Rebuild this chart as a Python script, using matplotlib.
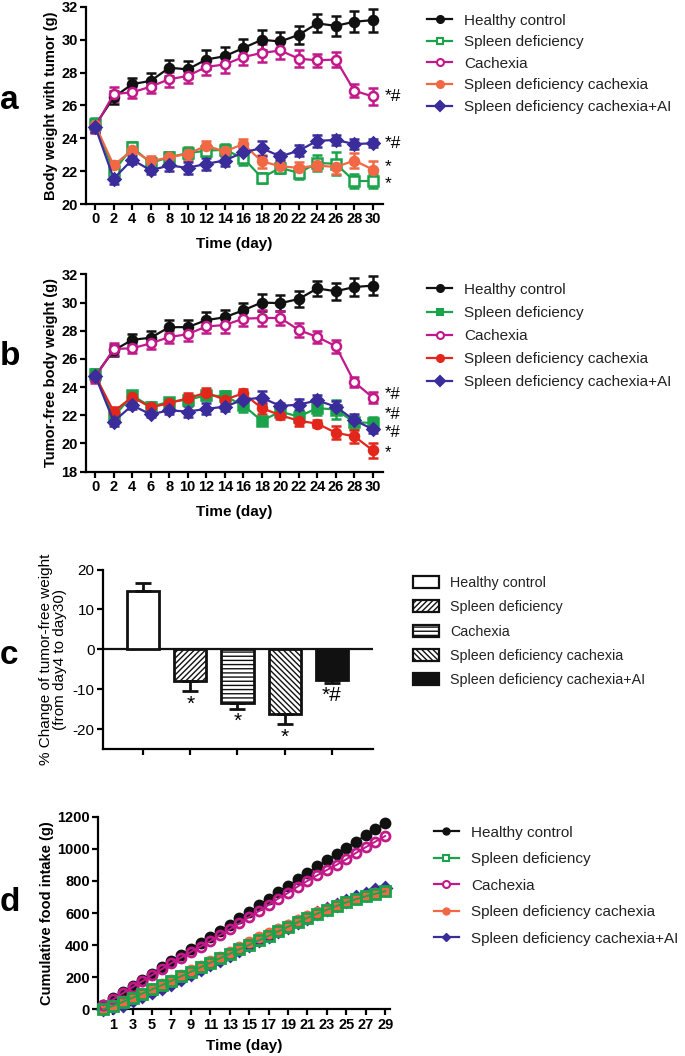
import matplotlib.pyplot as plt
from matplotlib.patches import Patch
from matplotlib.lines import Line2D

plt.rcParams['font.family'] = ['Liberation Sans', 'DejaVu Sans']
plt.rcParams['hatch.linewidth'] = 1.0
plt.rcParams['axes.unicode_minus'] = False

groups = ["Healthy control", "Spleen deficiency", "Cachexia",
          "Spleen deficiency cachexia", "Spleen deficiency cachexia+AI"]

# panel a/b: days 0..30 every 2 days
days_ab = list(range(0, 31, 2))

a_healthy = [24.8, 26.5, 27.3, 27.5, 28.3, 28.2, 28.8, 29.0, 29.5, 30.0, 29.9, 30.3, 31.0, 30.85, 31.1, 31.2]
a_spleen = [24.9, 22.0, 23.45, 22.5, 22.85, 23.1, 23.25, 23.3, 22.8, 21.6, 22.2, 21.9, 22.5, 22.45, 21.4, 21.4]
a_cachexia = [24.7, 26.7, 26.8, 27.15, 27.6, 27.8, 28.35, 28.5, 28.95, 29.2, 29.35, 28.85, 28.75, 28.8, 26.9, 26.55]
a_sdc = [24.8, 22.35, 23.3, 22.6, 22.85, 23.05, 23.55, 23.2, 23.65, 22.6, 22.3, 22.2, 22.35, 22.25, 22.65, 22.1]
a_sdcai = [24.7, 21.55, 22.7, 22.05, 22.35, 22.2, 22.45, 22.65, 23.15, 23.4, 22.9, 23.25, 23.85, 23.9, 23.65, 23.7]

a_healthy_err = [0.4, 0.4, 0.4, 0.45, 0.5, 0.5, 0.55, 0.55, 0.55, 0.6, 0.55, 0.55, 0.55, 0.6, 0.65, 0.7]
a_spleen_err = [0.35, 0.3, 0.3, 0.3, 0.3, 0.35, 0.35, 0.35, 0.45, 0.3, 0.3, 0.4, 0.5, 0.7, 0.45, 0.45]
a_cachexia_err = [0.4, 0.45, 0.35, 0.4, 0.45, 0.45, 0.5, 0.55, 0.5, 0.55, 0.5, 0.5, 0.4, 0.45, 0.4, 0.5]
a_sdc_err = [0.3, 0.3, 0.25, 0.3, 0.3, 0.35, 0.3, 0.3, 0.3, 0.4, 0.35, 0.35, 0.3, 0.45, 0.45, 0.55]
a_sdcai_err = [0.3, 0.35, 0.25, 0.2, 0.35, 0.35, 0.35, 0.35, 0.35, 0.45, 0.2, 0.35, 0.35, 0.3, 0.3, 0.25]

b_healthy = [24.8, 26.6, 27.35, 27.5, 28.25, 28.25, 28.75, 28.95, 29.45, 30.0, 29.95, 30.25, 31.0, 30.8, 31.1, 31.2]
b_spleen = [24.9, 21.9, 23.4, 22.6, 22.95, 23.1, 23.4, 23.35, 22.7, 21.6, 22.25, 21.9, 22.5, 22.4, 21.5, 21.45]
b_cachexia = [24.7, 26.7, 26.75, 27.1, 27.55, 27.75, 28.3, 28.4, 28.85, 28.9, 28.9, 28.05, 27.55, 26.9, 24.35, 23.25]
b_sdc = [24.8, 22.25, 23.3, 22.55, 22.85, 23.2, 23.6, 23.1, 23.55, 22.5, 22.0, 21.6, 21.4, 20.75, 20.5, 19.5]
b_sdcai = [24.8, 21.55, 22.7, 22.05, 22.35, 22.25, 22.45, 22.6, 23.1, 23.25, 22.65, 22.75, 23.05, 22.6, 21.65, 21.0]

b_healthy_err = [0.4, 0.4, 0.4, 0.45, 0.5, 0.5, 0.55, 0.55, 0.55, 0.6, 0.55, 0.55, 0.55, 0.6, 0.65, 0.7]
b_spleen_err = [0.35, 0.3, 0.3, 0.3, 0.3, 0.35, 0.35, 0.35, 0.45, 0.3, 0.3, 0.4, 0.5, 0.7, 0.45, 0.45]
b_cachexia_err = [0.4, 0.45, 0.35, 0.4, 0.45, 0.45, 0.5, 0.55, 0.5, 0.55, 0.5, 0.5, 0.4, 0.45, 0.35, 0.4]
b_sdc_err = [0.3, 0.3, 0.25, 0.3, 0.3, 0.35, 0.3, 0.3, 0.3, 0.4, 0.3, 0.4, 0.25, 0.45, 0.45, 0.55]
b_sdcai_err = [0.3, 0.35, 0.25, 0.2, 0.3, 0.4, 0.4, 0.3, 0.35, 0.45, 0.2, 0.4, 0.4, 0.4, 0.4, 0.25]

# significance marks at day 30 (label, y position)
a_marks = [("*#", 26.55), ("*#", 23.7), ("*", 22.3), ("*", 21.25)]
b_marks = [("*#", 23.5), ("*#", 22.05), ("*#", 20.75), ("*", 19.35)]

# panel c: % change of tumor-free weight
c_values = [14.5, -8.0, -13.5, -16.3, -7.8]
c_err = [2.0, 2.5, 1.5, 2.5, 0.6]
c_marks = ["", "*", "*", "*", "*#"]

# panel d: cumulative food intake, days 0..29
days_d = list(range(0, 30))
d_healthy = [30, 68, 105, 145, 183, 222, 262, 300, 338, 378, 412, 450, 488, 527, 566,
             606, 648, 690, 730, 770, 810, 850, 890, 930, 968, 1008, 1045, 1085, 1122, 1160]
d_spleen = [0, 22, 46, 72, 98, 124, 150, 178, 206, 234, 262, 290, 318, 346, 374,
            402, 430, 458, 486, 514, 542, 570, 596, 620, 644, 666, 686, 704, 720, 736]
d_cachexia = [25, 62, 100, 138, 175, 213, 250, 288, 322, 358, 390, 425, 462, 498, 535,
              575, 612, 650, 690, 725, 765, 800, 835, 868, 900, 935, 975, 1010, 1045, 1080]
d_sdc = [5, 25, 50, 76, 102, 128, 155, 183, 212, 242, 270, 298, 327, 356, 386,
         418, 448, 476, 502, 528, 556, 580, 604, 626, 648, 668, 688, 706, 722, 740]
d_sdcai = [0, 12, 30, 55, 80, 105, 130, 158, 188, 220, 250, 280, 310, 340, 372,
           402, 430, 458, 486, 514, 542, 570, 598, 624, 650, 674, 698, 720, 742, 758]

black = "#111111"
green = "#1aa34a"
magenta = "#c2188a"
orange = "#f26844"
red = "#e3261b"
blue = "#3a2c9a"

fig = plt.figure(figsize=(6.85, 10.56), dpi=100)


def style_axes(ax, bold=True, size=10.5):
    for s in ["top", "right"]:
        ax.spines[s].set_visible(False)
    for s in ["left", "bottom"]:
        ax.spines[s].set_linewidth(1.6)
    ax.tick_params(width=1.6, length=4, labelsize=size, pad=2)
    if bold:
        for lab in ax.get_xticklabels() + ax.get_yticklabels():
            lab.set_fontweight("bold")


def line_panel(ax, series, ylabel):
    for y, err, col, mk, mfc in series:
        ax.errorbar(days_ab, y, yerr=err, color=col, marker=mk, markersize=6.5,
                    mfc=mfc, mec=col, mew=1.8, lw=1.6, elinewidth=1.8,
                    capsize=3.5, capthick=1.8, clip_on=False, zorder=3)
    ax.set_xlim(-1, 31.1)
    ax.set_xticks(days_ab)
    ax.set_ylabel(ylabel, fontsize=10.5, fontweight="bold", labelpad=2)
    ax.set_xlabel("Time (day)", fontsize=11, fontweight="bold", labelpad=8)
    style_axes(ax)


def line_legend(y0, handles, spacing=0.5):
    fig.legend(handles, groups, loc="upper left", bbox_to_anchor=(0.615, y0),
               frameon=False, fontsize=11, handlelength=1.6, handletextpad=0.8,
               labelspacing=spacing, borderaxespad=0, labelcolor="#222222")


# ---- panel a
ax_a = fig.add_axes([0.1255, 0.8068, 0.4336, 0.1866])
series_a = [
    (a_healthy, a_healthy_err, black, "o", black),
    (a_spleen, a_spleen_err, green, "s", "white"),
    (a_cachexia, a_cachexia_err, magenta, "o", "white"),
    (a_sdc, a_sdc_err, orange, "o", orange),
    (a_sdcai, a_sdcai_err, blue, "D", blue),
]
line_panel(ax_a, series_a, "Body weight with tumor (g)")
ax_a.set_ylim(20, 32)
ax_a.set_yticks(range(20, 33, 2))
style_axes(ax_a)
for txt, y in a_marks:
    ax_a.text(31.3, y, txt, fontsize=12.5, va="center", ha="left")
line_legend(0.993, [Line2D([], [], color=c, marker=m, mfc=f, mec=c, mew=1.5, markersize=5, lw=1.6)
                    for _, _, c, m, f in series_a])

# ---- panel b
ax_b = fig.add_axes([0.1255, 0.5535, 0.4336, 0.1867])
series_b = [
    (b_healthy, b_healthy_err, black, "o", black),
    (b_spleen, b_spleen_err, green, "s", green),
    (b_cachexia, b_cachexia_err, magenta, "o", "white"),
    (b_sdc, b_sdc_err, red, "o", red),
    (b_sdcai, b_sdcai_err, blue, "D", blue),
]
line_panel(ax_b, series_b, "Tumor-free body weight (g)")
ax_b.set_ylim(18, 32)
ax_b.set_yticks(range(18, 33, 2))
style_axes(ax_b)
for txt, y in b_marks:
    ax_b.text(31.3, y, txt, fontsize=12, va="center", ha="left")
line_legend(0.738, [Line2D([], [], color=c, marker=m, mfc=f, mec=c, mew=1.5, markersize=5, lw=1.6)
                    for _, _, c, m, f in series_b], spacing=0.6)

# ---- panel c
ax_c = fig.add_axes([0.1504, 0.2907, 0.394, 0.170])
faces = ["white", "white", "white", "white", black]
hatches = ["", "//////", "----", "\\\\\\\\\\\\", ""]
xs = list(range(len(c_values)))
for i, (v, e) in enumerate(zip(c_values, c_err)):
    ax_c.bar(i, v, width=0.68, color=faces[i], edgecolor=black, hatch=hatches[i],
             linewidth=2, zorder=2)
    ax_c.errorbar(i, v, yerr=[[e if v < 0 else 0], [e if v > 0 else 0]], color=black,
                  elinewidth=2, capsize=6, capthick=2, zorder=3)
    if c_marks[i]:
        ax_c.text(i, v - e - 0.8, c_marks[i], fontsize=15, ha="center", va="top")
ax_c.axhline(0, color=black, lw=1.6, zorder=1)
ax_c.set_xlim(-0.85, 4.87)
ax_c.set_ylim(-25, 20)
ax_c.set_xticks(xs)
ax_c.set_xticklabels([])
ax_c.set_yticks([-20, -10, 0, 10, 20])
ax_c.set_ylabel("% Change of tumor-free weight\n(from day4 to day30)", fontsize=11, labelpad=4,
                linespacing=1.0)
style_axes(ax_c, bold=False, size=11)
handles_c = [Patch(facecolor=faces[i], edgecolor=black, hatch=hatches[i], linewidth=1.6)
             for i in range(5)]
fig.legend(handles_c, groups, loc="upper left", bbox_to_anchor=(0.595, 0.46),
           frameon=False, fontsize=10.3, handlelength=1.8, handleheight=0.9,
           handletextpad=0.8, labelspacing=0.72, borderaxespad=0, labelcolor="#222222")

# ---- panel d
ax_d = fig.add_axes([0.1431, 0.0442, 0.4263, 0.1824])
series_d = [
    (d_healthy, black, "o", black),
    (d_sdcai, blue, "D", blue),
    (d_sdc, orange, "o", orange),
    (d_cachexia, magenta, "o", "none"),
    (d_spleen, green, "s", "none"),
]
for y, col, mk, mfc in series_d:
    ax_d.plot(days_d, y, color=col, marker=mk, markersize=6.5, mfc=mfc, mec=col,
              mew=2, lw=1.4, clip_on=False, zorder=3)
ax_d.set_xlim(-0.55, 29.5)
ax_d.set_ylim(0, 1200)
ax_d.set_xticks(range(1, 30, 2))
ax_d.set_yticks(range(0, 1201, 200))
ax_d.set_ylabel("Cumulative food intake (g)", fontsize=10.5, fontweight="bold", labelpad=2)
ax_d.set_xlabel("Time (day)", fontsize=11, fontweight="bold", labelpad=5)
style_axes(ax_d)
d_handles = [
    Line2D([], [], color=black, marker="o", mfc=black, mec=black, markersize=5, lw=1.6),
    Line2D([], [], color=green, marker="s", mfc="white", mec=green, mew=1.5, markersize=5, lw=1.6),
    Line2D([], [], color=magenta, marker="o", mfc="white", mec=magenta, mew=1.5, markersize=5, lw=1.6),
    Line2D([], [], color=orange, marker="o", mfc=orange, mec=orange, markersize=5, lw=1.6),
    Line2D([], [], color=blue, marker="D", mfc=blue, mec=blue, markersize=4.5, lw=1.6),
]
fig.legend(d_handles, groups, loc="upper left", bbox_to_anchor=(0.625, 0.224),
           frameon=False, fontsize=11, handlelength=1.6, handletextpad=0.8,
           labelspacing=0.82, borderaxespad=0, labelcolor="#222222")

# panel letters
for y, letter in [(0.905, "a"), (0.662, "b"), (0.379, "c"), (0.145, "d")]:
    fig.text(0.0, y, letter, fontsize=24, fontweight="bold", va="center")

fig.savefig("out.png", dpi=100)
